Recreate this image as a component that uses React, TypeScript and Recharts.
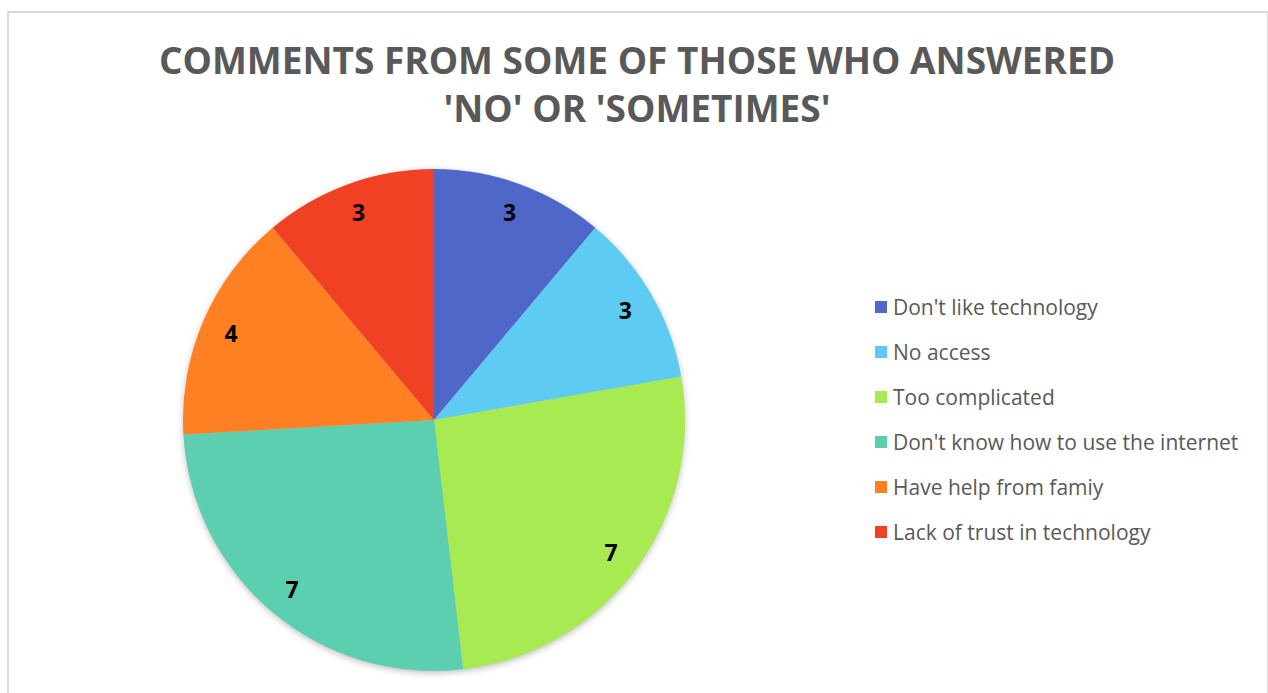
import React from 'react';
import { PieChart, Pie, Cell, Legend } from 'recharts';

const categories = [
  "Don't like technology",
  'No access',
  'Too complicated',
  "Don't know how to use the internet",
  'Have help from famiy',
  'Lack of trust in technology',
];
const counts = [3, 3, 7, 7, 4, 3];
const colors = ['#4F67C8', '#5ECBF3', '#A8EA52', '#5DCFB1', '#FF8022', '#F04124'];
const titleLines = ['COMMENTS FROM SOME OF THOSE WHO ANSWERED', "'NO' OR 'SOMETIMES'"];

const data = categories.map((name, i) => ({ name, value: counts[i] }));

const RAD = Math.PI / 180;
const renderLabel = (props: any) => {
  const { cx, cy, midAngle, outerRadius, value } = props;
  const r = outerRadius * 0.88;
  const x = cx + r * Math.cos(-midAngle * RAD);
  const y = cy + r * Math.sin(-midAngle * RAD);
  return (
    <text x={x} y={y} fill="#000" textAnchor="middle" dominantBaseline="central"
      style={{ fontFamily: 'Open Sans', fontWeight: 700, fontSize: 23 }}>
      {value}
    </text>
  );
};

const renderLegend = (props: any) => {
  const payload = [...(props.payload || [])].sort(
    (a: any, b: any) => categories.indexOf(a.value) - categories.indexOf(b.value)
  );
  return (
    <div>
      {payload.map((p: any, i: number) => (
        <div key={i} style={{ display: 'flex', alignItems: 'center', height: 45 }}>
          <span style={{ width: 12, height: 12, background: p.color, display: 'inline-block', marginRight: 6 }} />
          <span style={{ fontFamily: 'Open Sans', fontSize: 21, color: '#595959', whiteSpace: 'nowrap' }}>{p.value}</span>
        </div>
      ))}
    </div>
  );
};

export default function App() {
  return (
    <div style={{ position: 'absolute', left: 0, top: 0, width: 1268, height: 693, overflow: 'hidden', background: '#fff' }}>
      <style>{`.recharts-pie { filter: drop-shadow(0px 2px 3px rgba(0,0,0,0.25)); }`}</style>
      <div style={{ position: 'absolute', left: 7, top: 11, width: 1258, height: 700, border: '2px solid #d9d9d9' }} />
      <div style={{ position: 'absolute', left: 0, top: 36, width: 1274, textAlign: 'center', fontFamily: 'Open Sans', fontWeight: 700, fontSize: 37, lineHeight: '48px', color: '#595959' }}>
        {titleLines.map((t, i) => <div key={i}>{t}</div>)}
      </div>
      <div style={{ position: 'absolute', left: 0, top: 0 }}>
        <PieChart width={1268} height={693} margin={{ top: 0, right: 0, bottom: 0, left: 0 }}>
          <Pie
            data={data}
            dataKey="value"
            nameKey="name"
            cx={434}
            cy={420}
            outerRadius={251}
            startAngle={90}
            endAngle={-270}
            stroke="none"
            label={renderLabel}
            labelLine={false}
            isAnimationActive={false}
          >
            {data.map((d, i) => <Cell key={d.name} fill={colors[i]} />)}
          </Pie>
          <Legend
            layout="vertical"
            content={renderLegend}
            wrapperStyle={{ position: 'absolute', left: 875, top: 284, width: 390 }}
          />
        </PieChart>
      </div>
    </div>
  );
}
